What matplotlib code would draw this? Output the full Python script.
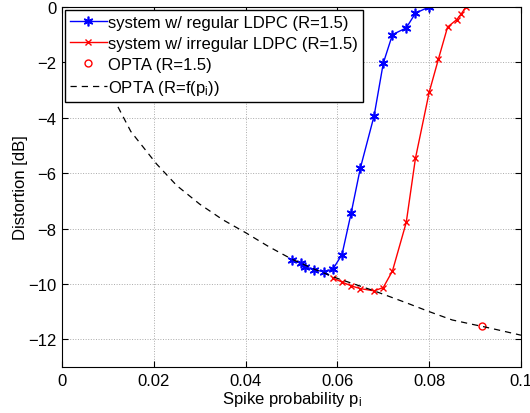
import matplotlib
matplotlib.use("Agg")
import matplotlib.pyplot as plt

# regular LDPC system
p_reg = [0.050, 0.052, 0.053, 0.055, 0.057, 0.059, 0.061, 0.063, 0.065,
         0.068, 0.070, 0.072, 0.075, 0.077, 0.080]
d_reg = [-9.13, -9.26, -9.38, -9.49, -9.56, -9.47, -8.94, -7.44, -5.82,
         -3.93, -2.03, -1.00, -0.76, -0.23, 0.0]

# irregular LDPC system
p_irr = [0.059, 0.061, 0.063, 0.065, 0.068, 0.070, 0.072, 0.075, 0.077,
         0.080, 0.082, 0.084, 0.086, 0.087, 0.088]
d_irr = [-9.79, -9.93, -10.07, -10.17, -10.25, -10.13, -9.53, -7.78, -5.47,
         -3.08, -1.89, -0.73, -0.46, -0.25, 0.0]

# OPTA at R=1.5
p_opta = [0.0915]
d_opta = [-11.53]

# OPTA with R=f(p_i)
p_curve = [0.003, 0.005, 0.008, 0.0115, 0.015, 0.0206, 0.025, 0.030, 0.035,
           0.040, 0.045, 0.050, 0.055, 0.060, 0.065, 0.068, 0.075, 0.080,
           0.085, 0.090, 0.0915, 0.095, 0.100]
d_curve = [-0.3, -1.2, -2.4, -3.39, -4.5, -5.67, -6.45, -7.12, -7.68,
           -8.15, -8.65, -9.10, -9.47, -9.80, -10.08, -10.25, -10.68, -11.0,
           -11.3, -11.48, -11.53, -11.66, -11.85]

plt.rcParams['font.family'] = ['Liberation Sans', 'DejaVu Sans']
plt.rcParams['mathtext.default'] = 'regular'
plt.rcParams['font.size'] = 12

fig = plt.figure(figsize=(5.3, 4.14), dpi=100)
ax = fig.add_axes([0.117, 0.111, 0.866, 0.870])

ax.plot(p_reg, d_reg, color='blue', marker=(6, 2, 0), markersize=7, mew=1.2,
        lw=1, label='system w/ regular LDPC (R=1.5)')
ax.plot(p_irr, d_irr, color='red', marker='x', markersize=4.5, lw=1,
        label='system w/ irregular LDPC (R=1.5)')
ax.plot(p_opta, d_opta, ls='none', marker='o', markersize=5, mfc='none',
        mec='red', label='OPTA (R=1.5)')
ax.plot(p_curve, d_curve, color='black', ls=(0, (5, 4)), lw=0.9,
        label='OPTA (R=f(p$_i$))')

ax.set_xlim(0, 0.1)
ax.set_ylim(-13, 0)
ax.set_xticks([0, 0.02, 0.04, 0.06, 0.08, 0.1])
ax.set_xticklabels(['0', '0.02', '0.04', '0.06', '0.08', '0.1'])
ax.set_yticks([0, -2, -4, -6, -8, -10, -12])
ax.grid(True, ls=':', color='#aaaaaa', lw=0.7)
ax.tick_params(direction='in', top=True, right=True, length=4, pad=4)
ax.set_xlabel('Spike probability p$_i$', labelpad=1)
ax.set_ylabel('Distortion [dB]', labelpad=0)

leg = ax.legend(loc='upper left', fancybox=False, framealpha=1,
                edgecolor='black', borderaxespad=0.2, handlelength=2.2,
                handletextpad=0.1, labelspacing=0.36, borderpad=0.28)
leg.get_frame().set_linewidth(1)

fig.savefig('out.png', dpi=100)
